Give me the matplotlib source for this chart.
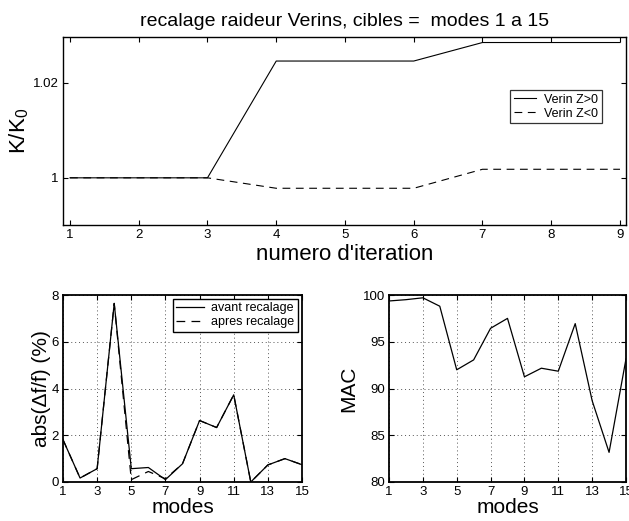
import matplotlib
matplotlib.use("Agg")
import matplotlib.pyplot as plt

plt.rcParams['font.family'] = ['Liberation Sans', 'DejaVu Sans']

# ---- data ----
iterations = [1, 2, 3, 4, 5, 6, 7, 8, 9]
verin_pos = [1.0, 1.0, 1.0, 1.0246, 1.0246, 1.0246, 1.0285, 1.0285, 1.0285]
verin_neg = [1.0, 1.0, 1.0, 0.9978, 0.9978, 0.9978, 1.0018, 1.0018, 1.0018]

modes = list(range(1, 16))
avant = [1.81, 0.17, 0.57, 7.64, 0.57, 0.62, 0.10, 0.78, 2.63, 2.33, 3.73, 0.0, 0.73, 1.00, 0.74]
apres = [1.81, 0.17, 0.57, 7.64, 0.10, 0.45, 0.14, 0.78, 2.63, 2.33, 3.73, 0.0, 0.73, 1.00, 0.74]
mac = [99.36, 99.5, 99.7, 98.8, 92.0, 93.06, 96.44, 97.5, 91.25, 92.17, 91.85, 96.94, 88.7, 83.17, 93.17]

top_yticks = [1.0, 1.02]
top_yticklabels = ['1', '1.02']
mode_ticks = [1, 3, 5, 7, 9, 11, 13, 15]

W, H = 629, 521
fig = plt.figure(figsize=(W / 100, H / 100), dpi=100)

def frac(x0, y0, x1, y1):
    return [x0 / W, 1 - y1 / H, (x1 - x0) / W, (y1 - y0) / H]

tick_fs = 9.5
label_fs = 15

def style(ax, lw):
    for s in ax.spines.values():
        s.set_linewidth(lw)
    ax.tick_params(direction='in', top=True, right=True, length=3.5,
                   width=0.8, labelsize=tick_fs, pad=3)

# ---- top ----
ax1 = fig.add_axes(frac(62.7, 37.3, 626.3, 225.3))
ax1.plot(iterations, verin_pos, color='black', lw=0.8, linestyle='-', label='Verin Z>0')
ax1.plot(iterations, verin_neg, color='black', lw=0.8, linestyle=(0, (7, 5)), label='Verin Z<0')
ax1.set_xlim(0.894, 9.092)
ax1.set_ylim(0.99, 1.0296)
ax1.set_xticks(iterations)
ax1.set_yticks(top_yticks)
ax1.set_yticklabels(top_yticklabels)
style(ax1, 1.0)
ax1.set_title('recalage raideur Verins, cibles =  modes 1 a 15', fontsize=14, pad=8)
ax1.set_xlabel("numero d'iteration", fontsize=16, labelpad=2)
ax1.set_ylabel('K/K$_\\mathregular{0}$', fontsize=16, labelpad=1)
leg1 = ax1.legend(loc='upper left', bbox_to_anchor=((510 - 62.7) / (626.3 - 62.7), 1 - (90 - 37.3) / (225.3 - 37.3)),
                  fontsize=9, frameon=True, fancybox=False, edgecolor='black',
                  handlelength=1.8, handletextpad=0.6, borderpad=0.3, labelspacing=0.15,
                  borderaxespad=0)
leg1.get_frame().set_linewidth(0.9)

# ---- bottom left ----
ax2 = fig.add_axes(frac(63, 295, 302, 482))
ax2.plot(modes, avant, color='black', lw=0.9, linestyle='-', label='avant recalage')
ax2.plot(modes, apres, color='black', lw=0.9, linestyle=(0, (7, 5)), label='apres recalage')
ax2.set_xlim(1, 15)
ax2.set_ylim(0, 8)
ax2.set_xticks(mode_ticks)
ax2.set_yticks([0, 2, 4, 6, 8])
ax2.grid(True, linestyle=(0, (1, 3)), color='#555555', lw=0.7)
style(ax2, 1.3)
ax2.set_xlabel('modes', fontsize=label_fs, labelpad=0)
ax2.set_ylabel('abs(\u0394f/f) (%)', fontsize=label_fs, labelpad=0)
leg2 = ax2.legend(loc='upper right', fontsize=9, frameon=True, fancybox=False,
                  edgecolor='black', handlelength=2.2, handletextpad=0.6,
                  borderpad=0.3, labelspacing=0.15, borderaxespad=0.3,
                  framealpha=1)
leg2.get_frame().set_linewidth(1.0)

# ---- bottom right ----
ax3 = fig.add_axes(frac(389, 295, 626, 482))
ax3.plot(modes, mac, color='black', lw=0.9)
ax3.set_xlim(1, 15)
ax3.set_ylim(80, 100)
ax3.set_xticks(mode_ticks)
ax3.set_yticks([80, 85, 90, 95, 100])
ax3.grid(True, linestyle=(0, (1, 3)), color='#555555', lw=0.7)
style(ax3, 1.3)
ax3.set_xlabel('modes', fontsize=label_fs, labelpad=0)
ax3.set_ylabel('MAC', fontsize=label_fs, labelpad=3)

fig.savefig('out.png', dpi=100)
